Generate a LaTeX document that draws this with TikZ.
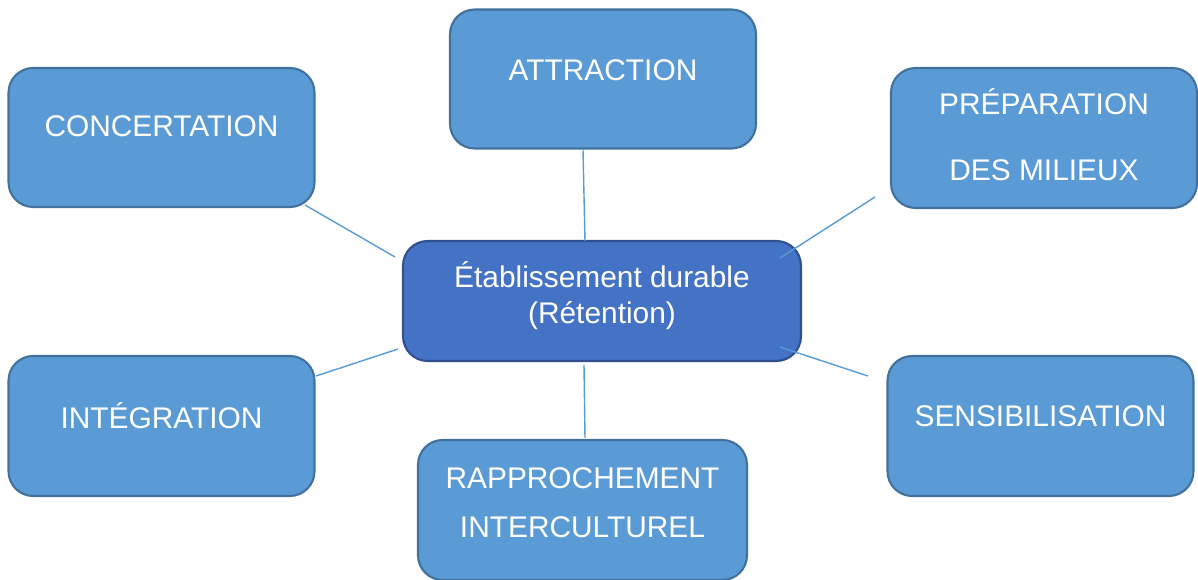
\documentclass[tikz,border=0pt]{standalone}
\usepackage{fontspec}
\setmainfont{Liberation Sans}
\usepackage{tikz}
\usetikzlibrary{positioning}
\definecolor{bleuboite}{HTML}{5B9BD5}
\definecolor{bordboite}{HTML}{41719C}
\definecolor{bleucentre}{HTML}{4472C4}
\definecolor{bordcentre}{HTML}{2F528F}

\begin{document}
\begin{tikzpicture}[
  x=0.02cm, y=-0.02cm,
  boite/.style={rectangle, rounded corners=14pt, draw=bordboite, line width=1.2pt, fill=bleuboite,
    minimum width=6.12cm, minimum height=2.78cm, align=center, text=white, inner sep=0pt,
    font=\fontsize{17pt}{20.4pt}\selectfont},
  centre/.style={boite, draw=bordcentre, fill=bleucentre, minimum width=7.96cm, minimum height=2.4cm},
  lien/.style={draw=bleuboite, line width=0.8pt}
]
\useasboundingbox (0,0) rectangle (1198,580);

\node[boite, text depth=13pt] (concert) at (161.5,137.5) {CONCERTATION};
\node[boite, text depth=10pt] (attract) at (603,79) {ATTRACTION};
\node[boite, minimum height=2.8cm, text depth=4pt] (prep) at (1044,138) {PRÉPARATION\\[17.6pt]DES MILIEUX};
\node[centre, text depth=9.6pt] (etab) at (602,301) {Établissement durable\\(Rétention)};
\node[boite, minimum height=2.8cm, text depth=12pt] (integr) at (161.5,426) {INTÉGRATION};
\node[boite, minimum height=2.8cm, minimum width=6.58cm, text depth=8.5pt] (rappr) at (582.5,510) {RAPPROCHEMENT\\[7.4pt]INTERCULTUREL};
\node[boite, minimum height=2.8cm, text depth=11pt] (sensib) at (1040.5,426) {SENSIBILISATION};

% bouts des liens
\coordinate (concert-b) at (305,205);
\coordinate (concert-e) at (395,257);
\coordinate (attract-b) at (583,150);
\coordinate (attract-e) at (585,241);
\coordinate (prep-b) at (875,197);
\coordinate (prep-e) at (780,258);
\coordinate (integr-b) at (316,376);
\coordinate (integr-e) at (398,349);
\coordinate (rappr-b) at (585,438);
\coordinate (rappr-e) at (584,365);
\coordinate (sensib-b) at (868,376);
\coordinate (sensib-e) at (780,347);

\draw[lien] (concert-b) -- (concert-e);
\draw[lien] (attract-b) -- (attract-e);
\draw[lien] (prep-b) -- (prep-e);
\draw[lien] (integr-b) -- (integr-e);
\draw[lien] (rappr-b) -- (rappr-e);
\draw[lien] (sensib-b) -- (sensib-e);
\end{tikzpicture}
\end{document}
